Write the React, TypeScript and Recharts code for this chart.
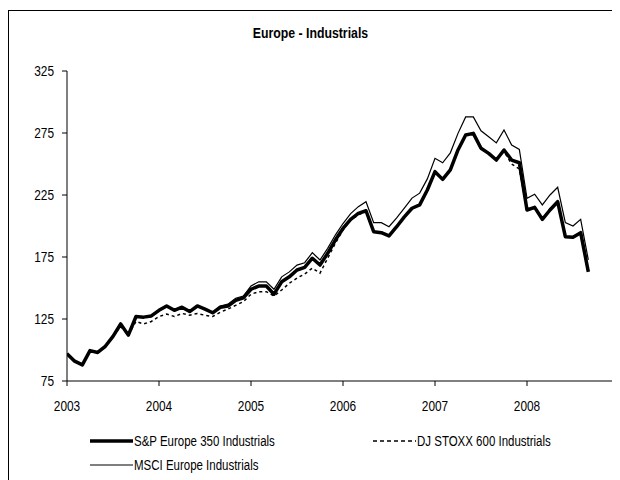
import React from 'react';
import { LineChart, Line, XAxis, YAxis } from 'recharts';

// monthly index levels, Jan 2003 .. Sep 2008
const spEurope350 = [
  97, 91, 88, 99.5, 98, 103, 111, 121, 112, 127,
  126.5, 127.5, 132, 135.5, 132, 134.5, 131, 135.5, 133, 130,
  134.5, 135.5, 140, 142, 149, 151.6, 151.6, 145, 155, 159,
  164.5, 166.7, 174, 168.5, 178, 188.7, 198, 205.4, 210.2, 212.3,
  195.4, 194.6, 192, 199.4, 207.3, 214.3, 217, 229, 243.8, 237.6,
  245.2, 261.3, 273.4, 274.7, 262.7, 258.6, 253.2, 261.3, 253.2, 251,
  212.9, 215, 205.4, 212.9, 219.6, 191.4, 190.9, 194.6, 163,
];

const djStoxx600 = [
  97, 91, 88, 99.5, 98, 103, 111, 119, 112, 123,
  121, 123, 127, 129, 127, 129.5, 128, 129.5, 128, 127,
  130.5, 133, 136, 139, 145, 147, 147, 143.5, 148.4, 153.8,
  158, 161.3, 166, 162, 174, 186, 196.8, 204.8, 208.9, 212,
  195.4, 194.6, 192, 199.4, 207.3, 214.3, 217, 229, 243.8, 237.6,
  245.2, 261.3, 273.4, 274.7, 262.7, 258.6, 253.2, 260, 250, 246,
  212.9, 215, 205.4, 214, 220, 191.4, 190.9, 194.6, 164,
];

const msciEurope = [
  97, 91, 88, 99.5, 98, 103, 111, 121, 112, 127,
  126.5, 127.5, 132, 135.5, 132, 134.5, 131, 135.5, 133, 130.5,
  135.5, 137, 141.7, 143.5, 151.6, 155, 155, 149, 159, 163,
  168.5, 170.4, 178.5, 172.6, 182, 192.7, 202, 210, 215.6, 219.6,
  202.7, 202.7, 199.4, 206.5, 214.5, 222.5, 226.5, 238, 254.6, 251,
  259, 274.7, 288, 288, 276.8, 272, 267, 277.4, 265.3, 261.8,
  222.3, 225.6, 217, 225, 231.2, 202.7, 200, 205.4, 172.6,
];

const yearLabels = ['2003', '2004', '2005', '2006', '2007', '2008'];
const yearTicks = [0, 12, 24, 36, 48, 60];
const yTicks = [75, 125, 175, 225, 275, 325];

const seriesNames = ['S&P Europe 350 Industrials', 'DJ STOXX 600 Industrials', 'MSCI Europe Industrials'];

const data = spEurope350.map((v, i) => ({
  month: i,
  sp: v,
  dj: djStoxx600[i],
  msci: msciEurope[i],
}));

// no Arial Narrow here, so squeeze Liberation Sans horizontally
const FONT = "'Liberation Sans', Arial, sans-serif";
const NARROW = 0.82;

const XTick = ({ x, y, payload }: any) => (
  <g transform={`translate(${x},${y})`}>
    <text transform={`scale(${NARROW},1)`} textAnchor="middle" dy="0.71em" fontSize={14.5} fontFamily={FONT} fill="#000">
      {yearLabels[yearTicks.indexOf(payload.value)]}
    </text>
  </g>
);

const YTick = ({ x, y, payload }: any) => (
  <g transform={`translate(${x},${y})`}>
    <text transform={`scale(${NARROW},1)`} textAnchor="end" dy="0.355em" fontSize={14.5} fontFamily={FONT} fill="#000">
      {payload.value}
    </text>
  </g>
);

const LegendItem = ({ left, top, label, width, dash }: any) => (
  <div style={{ position: 'absolute', left, top, display: 'flex', alignItems: 'center', whiteSpace: 'nowrap' }}>
    <svg width={43} height={6}>
      <line x1={0} y1={3} x2={43} y2={3} stroke="#000" strokeWidth={width} strokeDasharray={dash} />
    </svg>
    <span style={{ marginLeft: 1, fontSize: 14, lineHeight: '16px', display: 'inline-block', transform: `scaleX(${NARROW})`, transformOrigin: 'left center' }}>
      {label}
    </span>
  </div>
);

export default function App() {
  return (
    <div style={{ position: 'relative', width: 612, height: 472, overflow: 'hidden', fontFamily: FONT, color: '#000' }}>
      <div
        style={{
          position: 'absolute', left: 0, top: 2, width: 640, height: 500,
          borderLeft: '1px solid #000', borderTop: '1px solid #000',
        }}
      />
      <div style={{ position: 'absolute', left: 0, width: 604, top: 16, textAlign: 'center' }}>
        <span style={{ display: 'inline-block', fontWeight: 'bold', fontSize: 15, transform: `scaleX(${NARROW})` }}>
          Europe - Industrials
        </span>
      </div>
      <div style={{ position: 'absolute', left: 0, top: 0 }}>
        <LineChart width={612} height={472} data={data} margin={{ top: 63, right: 1, left: 19, bottom: 69 }}>
          <XAxis
            dataKey="month"
            type="number"
            domain={[0, 72]}
            ticks={yearTicks}
            tick={<XTick />}
            axisLine={{ stroke: '#000' }}
            tickLine={{ stroke: '#000' }}
            tickSize={5}
            tickMargin={15}
            height={30}
            allowDataOverflow
          />
          <YAxis
            type="number"
            domain={[75, 325]}
            ticks={yTicks}
            tick={<YTick />}
            axisLine={{ stroke: '#000' }}
            tickLine={{ stroke: '#000' }}
            tickSize={5}
            tickMargin={8}
            width={40}
          />
          <Line dataKey="sp" stroke="#000" strokeWidth={3.5} dot={false} isAnimationActive={false} strokeLinejoin="round" />
          <Line dataKey="dj" stroke="#000" strokeWidth={1.5} strokeDasharray="3 3" dot={false} isAnimationActive={false} />
          <Line dataKey="msci" stroke="#000" strokeWidth={1.2} dot={false} isAnimationActive={false} />
        </LineChart>
      </div>
      <LegendItem left={82} top={425} label={seriesNames[0]} width={3.5} />
      <LegendItem left={365} top={425} label={seriesNames[1]} width={1.5} dash="4 3" />
      <LegendItem left={82} top={449} label={seriesNames[2]} width={1.2} />
    </div>
  );
}
